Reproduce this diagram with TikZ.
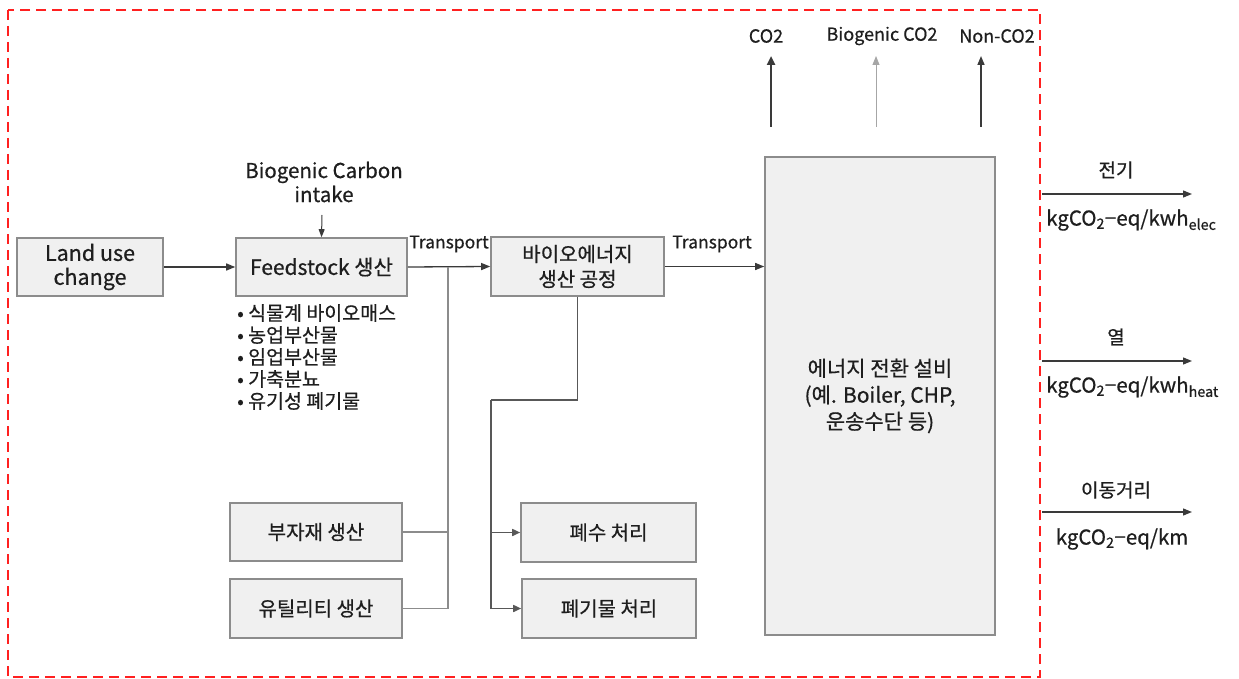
\documentclass[tikz,border=0pt]{standalone}
\usepackage{fontspec}
\setmainfont{Noto Sans CJK KR}[FakeBold=0.6]
\usetikzlibrary{arrows.meta}
\definecolor{boxfill}{HTML}{F0F0F0}
\definecolor{boxline}{HTML}{8C8C8C}
\definecolor{ink}{HTML}{1E1E1E}
\definecolor{wire}{HTML}{3A3A3A}
\definecolor{frame}{HTML}{FF2020}
\newcommand{\fs}[2]{\fontsize{#1}{#2}\selectfont}
\tikzset{
  procbox/.style={draw=boxline, fill=boxfill, line width=1.6pt, align=center,
    text=ink, font=\fs{20}{25}, inner sep=0pt},
  label/.style={text=ink, font=\fs{17.5}{20}, inner sep=0pt},
  feed/.style={draw=wire, line width=1.3pt, -{Triangle[length=9pt,width=7pt]}},
  joinline/.style={draw=boxline, line width=1.8pt},
  dropline/.style={draw=wire!85, line width=1.6pt},
}
\begin{document}
\begin{tikzpicture}[x=1pt,y=-1pt]
\useasboundingbox (0,0) rectangle (1239,679);
% system boundary
\draw[frame, line width=2pt, dash pattern=on 10pt off 6pt] (8,10) rectangle (1040,677);

% process boxes
\node[procbox, font=\fs{21.5}{24}, minimum width=146pt, minimum height=58pt] (luc) at (90,267) {Land use\\change};
\node[procbox, font=\fs{21}{24}, minimum width=171pt, minimum height=58pt] (feed) at (321.5,267) {Feedstock 생산};
\node[procbox, minimum width=173pt, minimum height=59pt] (bio) at (577.5,266.5) {바이오에너지\\생산 공정};
\node[procbox, font=\fs{21}{26.5}, minimum width=230pt, minimum height=478pt] (conv) at (880,396) {에너지 전환 설비\\(예. Boiler, CHP,\\운송수단 등)};
\node[procbox, minimum width=172pt, minimum height=58pt] (sub) at (316,532) {부자재 생산};
\node[procbox, minimum width=172pt, minimum height=59pt] (util) at (316,608.5) {유틸리티 생산};
\node[procbox, minimum width=175pt, minimum height=59pt] (ww) at (608.5,532.5) {폐수 처리};
\node[procbox, minimum width=174pt, minimum height=59pt] (sw) at (609,608.5) {폐기물 처리};

% feedstock types
\node[label, font=\fs{19.5}{22}, align=left, anchor=north west] (types) at (237,304)
  {• 식물계 바이오매스\\• 농업부산물\\• 임업부산물\\• 가축분뇨\\• 유기성 폐기물};

% carbon intake
\node[label, font=\fs{20.5}{24}, align=center] (bci) at (324,182) {Biogenic Carbon\\intake};
\coordinate (bcis) at (322,215);
\draw[feed, line width=1pt, -{Triangle[length=8pt,width=6pt]}] (bcis) -- (feed.north);

% main chain
\draw[feed] (luc.east) -- (feed.west);
\draw[feed] (feed.east) -- (bio.west);
\node[label] (tr1) at (449,244) {Transport};
\draw[feed] (bio.east) -- (bio.east -| conv.west);
\node[label] (tr2) at (712,244) {Transport};

% auxiliary inputs joining the transport line
\coordinate (j1) at (448,267);
\draw[joinline] (sub.east) -| (j1);
\draw[joinline] (util.east) -| (j1);

% residues leaving the bioenergy plant
\coordinate (j2) at (491,400);
\draw[dropline] (bio.south) |- (j2);
\draw[dropline, -{Triangle[length=8pt,width=7pt]}] (j2) |- (ww.west);
\draw[dropline, -{Triangle[length=8pt,width=7pt]}] (j2) |- (sw.west);

% emissions
\node[label, font=\fs{18}{20}] (co2) at (766,36) {CO2};
\node[label, font=\fs{18}{20}] (bco2) at (882,36) {Biogenic CO2};
\node[label, font=\fs{18}{20}] (nco2) at (997,36) {Non-CO2};
\coordinate (e1) at (771,127);
\coordinate (e2) at (876,127);
\coordinate (e3) at (981,127);
\draw[draw=wire, line width=2.4pt, -{Triangle[length=9pt,width=8pt]}] (e1) -- (e1 |- 0,56);
\draw[draw=gray!70, line width=1pt, -{Triangle[length=9pt,width=7pt]}] (e2) -- (e2 |- 0,56);
\draw[draw=wire, line width=1.5pt, -{Triangle[length=9pt,width=7pt]}] (e3) -- (e3 |- 0,56);

% products
\coordinate (o1) at (1042,194);  \coordinate (p1) at (1192,194);
\coordinate (o2) at (1042,361);  \coordinate (p2) at (1192,361);
\coordinate (o3) at (1042,512);  \coordinate (p3) at (1192,512);
\draw[feed] (o1) -- (p1);
\draw[feed] (o2) -- (p2);
\draw[feed] (o3) -- (p3);
\node[label, font=\fs{19}{20}] (el) at (1116,170) {전기};
\node[label, font=\fs{19}{20}] (ht) at (1116,337) {열};
\node[label, font=\fs{19}{20}] (tv) at (1116,490) {이동거리};
\node[label, font=\fs{20.5}{22}, anchor=west] (elu) at (1046,220) {kgCO\textsubscript{2}−eq/kwh\textsubscript{elec}};
\node[label, font=\fs{20.5}{22}, anchor=west] (htu) at (1046,387) {kgCO\textsubscript{2}−eq/kwh\textsubscript{heat}};
\node[label, font=\fs{20.5}{22}] (tvu) at (1122,539) {kgCO\textsubscript{2}−eq/km};
\end{tikzpicture}
\end{document}
